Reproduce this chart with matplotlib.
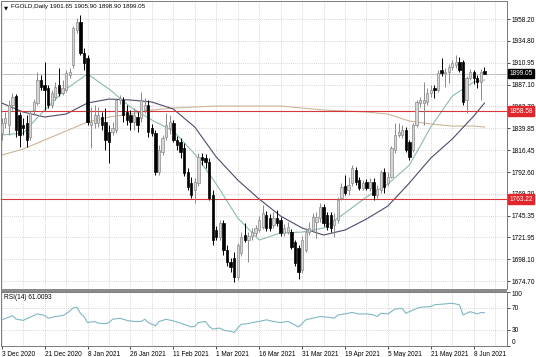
import matplotlib
matplotlib.use("Agg")
import matplotlib.pyplot as plt
import matplotlib.transforms as mtransforms
from matplotlib.patches import Rectangle
import numpy as np

plt.rcParams["font.family"] = ["Liberation Sans", "DejaVu Sans"]

# ---------------- data ----------------
opens = [1834.9, 1845.7, 1843.6, 1865.2, 1874.9, 1854.4, 1843.6, 1845.7, 1830.6, 1859.8,
         1867.4, 1892.2, 1886.8, 1883.6, 1865.2, 1873.8, 1886.8, 1878.2, 1881.4, 1897.6,
         1908.5, 1946.3, 1955.0, 1921.5, 1916.0, 1843.6, 1845.7, 1845.7, 1852.2, 1846.8,
         1836.0, 1836.0, 1838.1, 1870.6, 1870.6, 1857.6, 1854.4, 1846.8, 1852.2, 1851.1,
         1859.8, 1865.2, 1840.3, 1834.9, 1792.7, 1814.3, 1830.6, 1840.3, 1845.7, 1827.3,
         1825.2, 1818.7, 1792.7, 1780.8, 1773.2, 1780.8, 1808.9, 1807.8, 1803.5, 1767.8,
         1729.9, 1722.4, 1737.5, 1708.3, 1695.3, 1699.6, 1679.1, 1705.1, 1724.5, 1719.1,
         1723.4, 1726.7, 1729.9, 1733.2, 1746.2, 1742.9, 1735.4, 1742.9, 1740.8, 1726.7,
         1727.8, 1727.8, 1716.9, 1710.5, 1686.7, 1708.3, 1727.8, 1729.9, 1738.6, 1742.9,
         1754.8, 1746.2, 1746.2, 1735.4, 1740.8, 1764.6, 1777.5, 1773.2, 1780.8, 1794.9,
         1784.0, 1775.4, 1781.9, 1775.4, 1781.9, 1767.8, 1773.2, 1792.7, 1780.8, 1787.3,
         1816.5, 1832.7, 1832.7, 1838.1, 1825.2, 1816.5, 1843.6, 1867.4, 1867.4, 1868.4,
         1878.2, 1883.6, 1881.4, 1903.1, 1899.8, 1900.9, 1906.3, 1908.5, 1911.7, 1911.7,
         1870.6, 1894.4, 1900.9, 1894.4, 1890.1, 1901.65]
highs = [1851.1, 1857.6, 1870.6, 1878.2, 1877.1, 1857.6, 1851.1, 1854.4, 1859.8, 1871.7,
         1900.9, 1897.6, 1911.7, 1886.8, 1881.4, 1890.1, 1905.2, 1892.2, 1903.1, 1905.2,
         1950.7, 1959.3, 1962.6, 1926.9, 1919.3, 1863.0, 1865.2, 1863.0, 1857.6, 1861.9,
         1843.6, 1846.8, 1872.8, 1876.0, 1873.8, 1865.2, 1859.8, 1861.9, 1857.6, 1879.3,
         1872.8, 1870.6, 1844.6, 1838.1, 1821.9, 1832.7, 1856.5, 1854.4, 1849.0, 1831.6,
         1829.5, 1824.1, 1797.0, 1787.3, 1786.2, 1813.3, 1813.3, 1812.2, 1807.8, 1773.2,
         1734.3, 1740.8, 1740.8, 1713.7, 1699.6, 1706.1, 1715.9, 1727.8, 1737.5, 1727.8,
         1732.1, 1735.4, 1745.1, 1757.0, 1750.5, 1747.3, 1749.4, 1751.6, 1744.0, 1736.4,
         1738.6, 1731.0, 1719.1, 1713.7, 1723.4, 1732.1, 1738.6, 1748.3, 1749.4, 1759.1,
         1758.1, 1749.4, 1749.4, 1748.3, 1765.6, 1780.8, 1789.4, 1787.3, 1800.3, 1798.1,
         1787.3, 1784.0, 1785.1, 1786.2, 1786.2, 1778.6, 1794.9, 1797.0, 1792.7, 1820.8,
         1845.7, 1845.7, 1843.6, 1841.4, 1827.3, 1845.7, 1870.6, 1873.8, 1890.1, 1883.6,
         1886.8, 1886.8, 1903.1, 1916.0, 1905.2, 1909.6, 1913.9, 1919.3, 1917.1, 1913.9,
         1896.6, 1904.1, 1903.1, 1897.6, 1904.1, 1905.90]
lows = [1827.3, 1840.3, 1832.7, 1859.8, 1830.6, 1819.7, 1832.7, 1819.7, 1827.3, 1854.4,
        1865.2, 1881.4, 1859.8, 1861.9, 1861.9, 1870.6, 1874.9, 1876.0, 1879.3, 1894.4,
        1905.2, 1943.1, 1919.3, 1903.1, 1843.6, 1818.7, 1840.3, 1841.4, 1838.1, 1816.5,
        1802.4, 1832.7, 1834.9, 1866.3, 1846.8, 1843.6, 1838.1, 1838.1, 1836.0, 1846.8,
        1856.5, 1830.6, 1831.6, 1789.4, 1789.4, 1811.1, 1827.3, 1833.8, 1825.2, 1816.5,
        1807.8, 1788.4, 1773.2, 1764.6, 1759.1, 1777.5, 1800.3, 1797.0, 1762.4, 1713.7,
        1719.1, 1719.1, 1702.9, 1691.0, 1684.5, 1673.7, 1675.8, 1701.8, 1716.9, 1695.3,
        1719.1, 1723.4, 1727.8, 1731.0, 1728.9, 1728.9, 1732.1, 1734.3, 1723.4, 1723.4,
        1725.6, 1709.4, 1691.0, 1676.9, 1683.4, 1706.1, 1724.5, 1727.8, 1721.3, 1738.6,
        1734.3, 1729.9, 1727.8, 1722.4, 1737.5, 1762.4, 1767.8, 1767.8, 1777.5, 1778.6,
        1773.2, 1773.2, 1773.2, 1772.1, 1762.4, 1764.6, 1770.0, 1770.0, 1777.5, 1786.2,
        1813.3, 1830.6, 1829.5, 1814.3, 1805.7, 1814.3, 1841.4, 1863.0, 1843.6, 1865.2,
        1873.8, 1872.8, 1879.3, 1896.6, 1884.7, 1889.0, 1903.1, 1905.2, 1900.9, 1865.2,
        1856.5, 1892.2, 1887.9, 1883.6, 1870.6, 1898.90]
closes = [1845.7, 1851.1, 1865.2, 1873.8, 1838.1, 1832.7, 1840.3, 1827.3, 1856.5, 1868.4,
          1892.2, 1884.7, 1881.4, 1865.2, 1878.2, 1884.7, 1878.2, 1883.6, 1899.8, 1900.9,
          1948.5, 1955.0, 1921.5, 1910.6, 1846.8, 1846.8, 1854.4, 1854.4, 1843.6, 1827.3,
          1825.2, 1840.3, 1870.6, 1872.8, 1854.4, 1849.0, 1846.8, 1854.4, 1843.6, 1870.6,
          1865.2, 1836.0, 1834.9, 1792.7, 1816.5, 1829.5, 1843.6, 1846.8, 1827.3, 1821.9,
          1814.3, 1791.6, 1776.5, 1767.8, 1781.9, 1808.9, 1805.7, 1803.5, 1764.6, 1719.1,
          1722.4, 1737.5, 1708.3, 1695.3, 1689.9, 1679.1, 1713.7, 1722.4, 1719.1, 1723.4,
          1727.8, 1732.1, 1740.8, 1748.3, 1732.1, 1732.1, 1742.9, 1737.5, 1726.7, 1732.1,
          1733.2, 1711.5, 1694.2, 1684.5, 1719.1, 1727.8, 1732.1, 1744.0, 1744.0, 1754.8,
          1737.5, 1733.2, 1732.1, 1740.8, 1762.4, 1776.5, 1770.0, 1778.6, 1797.0, 1781.9,
          1775.4, 1780.8, 1775.4, 1781.9, 1767.8, 1774.3, 1792.7, 1776.5, 1787.3, 1818.7,
          1832.7, 1836.0, 1838.1, 1816.5, 1808.9, 1843.6, 1868.4, 1870.6, 1870.6, 1878.2,
          1881.4, 1881.4, 1899.8, 1899.8, 1900.9, 1906.3, 1910.6, 1911.7, 1903.1, 1868.4,
          1894.4, 1900.9, 1894.4, 1890.1, 1900.9, 1899.05]

# moving averages (bar index, price)
ma_bars = [0, 6, 12, 18, 24, 30, 36, 42, 48, 54, 60, 66, 72, 78, 84, 90, 96, 102,
           108, 114, 120, 126, 132, 135]
ma_fast = [1832.7, 1834.9, 1859.7, 1882.5, 1898.7, 1882.5, 1863.0, 1848.9, 1837.0, 1812.1,
           1779.7, 1742.9, 1719.1, 1726.7, 1727.7, 1732.1, 1748.3, 1765.6, 1779.7, 1800.2,
           1841.3, 1874.9, 1890.0, 1892.2]
ma_mid = [1867.3, 1857.6, 1852.2, 1855.4, 1867.3, 1871.6, 1870.6, 1868.4, 1860.8, 1841.3,
          1808.9, 1784.0, 1763.4, 1745.0, 1732.1, 1724.5, 1729.9, 1741.8, 1755.9, 1780.8,
          1807.8, 1828.4, 1853.2, 1867.3]
ma_slow = [1811.0, 1817.5, 1827.3, 1837.0, 1846.8, 1852.2, 1855.4, 1859.7, 1861.9, 1863.0,
           1864.1, 1864.1, 1864.1, 1864.1, 1861.9, 1859.7, 1858.7, 1857.6, 1855.4, 1847.8,
           1844.6, 1842.4, 1842.4, 1841.3]

rsi_bars = [0, 3, 4, 6, 10, 12, 13, 15, 17, 18, 19, 20, 21, 22, 23, 24, 26, 27, 29, 30,
            31, 33, 35, 37, 39, 40, 41, 43, 44, 46, 48, 50, 53, 54, 55, 57, 58, 59, 61, 62,
            64, 65, 66, 67, 69, 70, 72, 74, 76, 78, 80, 81, 83, 84, 85, 87, 89, 91, 93, 94,
            96, 98, 100, 102, 104, 105, 106, 108, 110, 112, 113, 115, 117, 120, 121, 123, 126,
            128, 129, 130, 131, 133, 134, 135]
rsi_vals = [48, 55.5, 49.4, 47, 59, 56, 51, 54, 56, 59, 64, 70, 71, 60, 54, 43, 45, 42, 41, 43,
            49, 51, 47, 45, 45, 49, 43, 37, 45, 49, 46, 42, 35, 36, 43, 45, 36, 31, 33, 29,
            27, 25, 33, 40, 41, 43, 45, 48, 45, 43, 45, 42, 35, 41, 48, 51, 54, 53, 51, 57,
            59, 61.5, 58.5, 59, 57, 54, 60, 59, 68, 69, 60, 66, 71, 72.4, 75.5, 76.7, 78.5,
            75.5, 57, 60, 63, 59, 61.5, 61.0]

level_lines = [1858.58, 1763.22]
last_price = 1899.05
price_ticks = [1958.20, 1934.80, 1910.95, 1887.10, 1863.70, 1839.85, 1816.45,
               1792.60, 1769.20, 1745.35, 1721.95, 1698.10, 1674.70]
date_idx = [0, 12, 24, 36, 48, 60, 72, 84, 96, 108, 120, 132]
date_labels = ["3 Dec 2020", "21 Dec 2020", "8 Jan 2021", "26 Jan 2021", "11 Feb 2021",
               "1 Mar 2021", "16 Mar 2021", "31 Mar 2021", "19 Apr 2021", "5 May 2021",
               "21 May 2021", "8 Jun 2021"]
rsi_ticks = [100, 70, 30, 0]

# ---------------- figure ----------------
W, H = 536, 357
fig = plt.figure(figsize=(W / 100, H / 100), dpi=100)
fig.patch.set_facecolor("white")

ax = fig.add_axes([1 / W, 68 / H, 506 / W, 288 / H])
axr = fig.add_axes([1 / W, 11 / H, 506 / W, 54.5 / H], sharex=ax)

FS = 4.7
grid_kw = dict(color="#c9c9c9", lw=0.6, ls=(0, (1, 1.5)), zorder=0)

n = len(closes)
x = np.arange(n)
o = np.array(opens); c = np.array(closes); h = np.array(highs); l = np.array(lows)
up = c >= o

# grids
for gx in range(0, 142, 6):
    ax.axvline(gx, **grid_kw)
    axr.axvline(gx, **grid_kw)
for p in price_ticks:
    ax.axhline(p, **grid_kw)
for r in (70, 30):
    axr.axhline(r, **grid_kw)

# moving averages and levels
ax.plot(ma_bars, ma_slow, color="#cdb596", lw=0.8, zorder=2)
ax.plot(ma_bars, ma_mid, color="#4d4b6b", lw=0.8, zorder=2)
ax.plot(ma_bars, ma_fast, color="#8bbab2", lw=0.8, zorder=2)
for lv in level_lines:
    ax.axhline(lv, color="#d9363b", lw=0.8, zorder=2)
ax.axhline(last_price, color="#b5b5b5", lw=0.6, zorder=1)

# candles
wick_col = np.where(up, "#8a8a8a", "#000000")
ax.vlines(x, l, h, colors=wick_col, lw=0.7, zorder=3)
body_b = np.minimum(o, c)
body_h = np.maximum(np.abs(c - o), 0.6)
ax.bar(x[up], body_h[up], bottom=body_b[up], width=0.64, color="#d6d6d6",
       edgecolor="#8a8a8a", linewidth=0.5, zorder=4)
ax.bar(x[~up], body_h[~up], bottom=body_b[~up], width=0.64, color="#000000",
       edgecolor="#000000", linewidth=0.5, zorder=4)

ax.set_xlim(-0.2, 141.3)
ax.set_ylim(1666.1, 1977.7)

# right price axis
ax.yaxis.tick_right()
ax.set_yticks(price_ticks)
ax.set_yticklabels([f"{p:.2f}" for p in price_ticks], fontsize=FS)
ax.tick_params(axis="y", length=2, width=0.5, pad=1.5, colors="#000000")
ax.tick_params(axis="x", length=0, labelbottom=False)

# highlighted right labels (drawn over the tick labels like the terminal does)
trans = mtransforms.blended_transform_factory(ax.transAxes, ax.transData)
ax.text(1.0045, last_price, f"{last_price:.2f}", transform=trans, fontsize=FS,
        color="white", va="center", ha="left", zorder=10,
        bbox=dict(boxstyle="square,pad=0.2", facecolor="#000000", edgecolor="#000000"))
for lv in level_lines:
    ax.text(1.0045, lv, f"{lv:.2f}", transform=trans, fontsize=FS, color="white",
            va="center", ha="left", zorder=10,
            bbox=dict(boxstyle="square,pad=0.2", facecolor="#e0262b", edgecolor="#e0262b"))

for sp in ax.spines.values():
    sp.set_color("#7a7a7a"); sp.set_linewidth(0.7)

ax.text(0.006, 0.985, "\u25BC", transform=ax.transAxes, fontsize=3.8, va="top",
        ha="left", color="#000000", family="DejaVu Sans")
ax.text(0.020, 0.988, "FGOLD,Daily 1901.65 1905.90 1898.90 1899.05",
        transform=ax.transAxes, fontsize=4.5, va="top", ha="left", color="#000000")

# RSI panel
axr.plot(rsi_bars, rsi_vals, color="#7fb8c4", lw=0.8, zorder=3)
axr.set_ylim(0.5, 100)
axr.yaxis.tick_right()
axr.set_yticks(rsi_ticks)
lbls = axr.set_yticklabels([str(t) for t in rsi_ticks], fontsize=FS)
lbls[0].set_va("top")
lbls[-1].set_va("bottom")
axr.tick_params(axis="y", length=2, width=0.5, pad=1.5)
axr.set_xticks(date_idx)
axr.set_xticklabels(date_labels, fontsize=FS, ha="left")
axr.tick_params(axis="x", length=2, width=0.5, pad=1.5)
for sp in axr.spines.values():
    sp.set_color("#7a7a7a"); sp.set_linewidth(0.7)
axr.text(0.006, 0.95, "RSI(14) 61.0093", transform=axr.transAxes, fontsize=FS,
         va="top", ha="left", color="#000000")

# separator between panels
fig.patches.append(Rectangle((1 / W, 65.2 / H), 506 / W, 2.6 / H, transform=fig.transFigure,
                             facecolor="#8c8c8c", edgecolor="none", zorder=5))

fig.savefig("out.png", dpi=100, facecolor="white")
